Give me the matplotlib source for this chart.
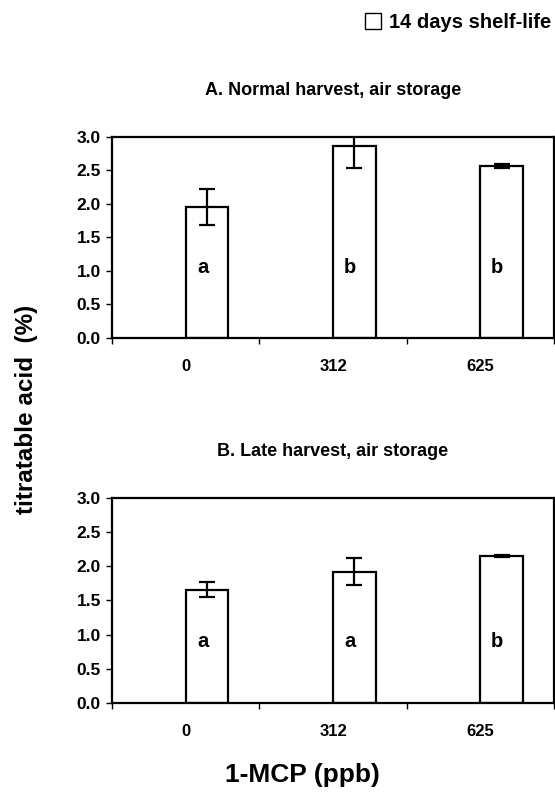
import numpy as np
import matplotlib.pyplot as plt
from matplotlib.patches import Patch
from matplotlib.ticker import FixedLocator, NullFormatter

plt.rcParams['font.family'] = ['Liberation Sans', 'DejaVu Sans']
plt.rcParams['font.weight'] = 'bold'

doses = ['0', '312', '625']

# titratable acid (%) after 14 days shelf-life
normal_mean = [1.95, 2.87, 2.57]
normal_err = [0.27, 0.33, 0.03]
normal_sig = ['a', 'b', 'b']

late_mean = [1.66, 1.92, 2.15]
late_err = [0.11, 0.20, 0.02]
late_sig = ['a', 'a', 'b']

panels = [
    ('A. Normal harvest, air storage', normal_mean, normal_err, normal_sig, 1.05),
    ('B. Late harvest, air storage', late_mean, late_err, late_sig, 0.90),
]

fig = plt.figure(figsize=(5.55, 8), dpi=100)
ax_rects = [[0.2018, 0.5775, 0.7964, 0.2513],
            [0.2018, 0.1213, 0.7964, 0.2563]]

x = np.arange(len(doses))
bar_w = 0.29

for rect, (title, mean, err, sig, sig_y) in zip(ax_rects, panels):
    ax = fig.add_axes(rect)
    # bars sit just right of the category centre (second slot of a cluster)
    ax.bar(x, mean, width=bar_w, align='edge', color='white',
           edgecolor='black', linewidth=1.6)
    ax.errorbar(x + bar_w / 2, mean, yerr=err, fmt='none', ecolor='black',
                elinewidth=1.6, capsize=6, capthick=1.6)
    for xi, s in zip(x, sig):
        ax.text(xi + bar_w / 2 - 0.03, sig_y, s, ha='center', va='center',
                fontsize=14.5, fontweight='bold')

    ax.set_xlim(-0.5, 2.5)
    ax.set_ylim(0, 3.0)
    ax.set_yticks(np.arange(0, 3.01, 0.5))
    ax.set_yticklabels([f'{v:.1f}' for v in np.arange(0, 3.01, 0.5)],
                       fontsize=12.5, fontweight='bold')
    # category labels centred, tick marks on the boundaries
    ax.set_xticks(x)
    ax.set_xticklabels(doses, fontsize=12, fontweight='bold')
    ax.tick_params(axis='x', which='major', length=0, pad=15)
    ax.xaxis.set_minor_locator(FixedLocator([-0.5, 0.5, 1.5, 2.5]))
    ax.xaxis.set_minor_formatter(NullFormatter())
    ax.tick_params(axis='x', which='minor', direction='out', length=4, width=1)
    ax.tick_params(axis='y', direction='out', length=4, width=1, pad=4)
    for sp in ax.spines.values():
        sp.set_linewidth(1.6)
    ax.set_title(title, fontsize=13, fontweight='bold', pad=30)

fig.text(0.047, 0.488, 'titratable acid  (%)', rotation=90, ha='center',
         va='center', fontsize=17.5, fontweight='bold')
fig.text(0.545, 0.031, '1-MCP (ppb)', ha='center', va='center',
         fontsize=19, fontweight='bold')

handle = Patch(facecolor='white', edgecolor='black', linewidth=1.0)
fig.legend([handle], ['14 days shelf-life'], loc='center right',
           bbox_to_anchor=(0.997, 0.972), frameon=False, borderaxespad=0,
           borderpad=0.1, prop={'weight': 'bold', 'size': 14.5},
           handlelength=0.8, handleheight=0.8, handletextpad=0.4)

fig.savefig('out.png', dpi=100)
